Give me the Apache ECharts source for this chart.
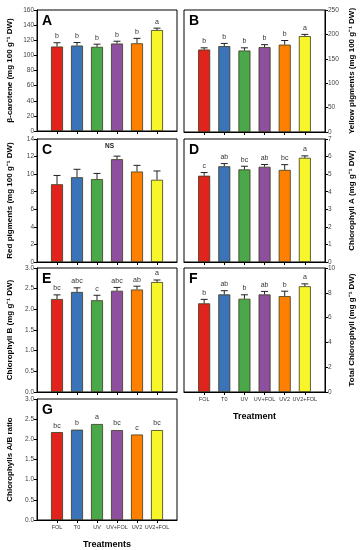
<!DOCTYPE html>
<html><head><meta charset="utf-8">
<script src="https://cdn.jsdelivr.net/npm/echarts@6/dist/echarts.min.js"></script>
<style>html,body{margin:0;padding:0;background:#fff}#c{width:364px;height:550px}</style>
</head><body><div id="c"></div>
<script>
// ---------- DATA ----------
const treatments = ['FOL','T0','UV','UV+FOL','UV2','UV2+FOL'];
const barColors = ['#e0231d','#3b73b8','#4ba84a','#8d4f9e','#ff8000','#f6f62a'];

const betaCarotene        = [111.7, 113.0, 111.3, 115.7, 116.0, 133.5];
const betaCaroteneErr     = [5.0, 4.0, 3.5, 3.0, 6.5, 2.5];
const betaCaroteneLetters = ['b','b','b','b','b','a'];
const betaCaroteneTicks   = {min:0, max:160, interval:20};

const yellowPigments        = [169, 176, 167, 174, 179, 196.5];
const yellowPigmentsErr     = [3.5, 5.5, 5.5, 5.0, 8.5, 3.5];
const yellowPigmentsLetters = ['b','b','b','b','b','a'];
const yellowPigmentsTicks   = {min:0, max:250, interval:50};

const redPigments        = [8.85, 9.65, 9.43, 11.7, 10.3, 9.36];
const redPigmentsErr     = [1.0, 0.9, 0.65, 0.35, 0.7, 1.0];
const redPigmentsLetters = ['','','','','',''];
const redPigmentsTicks   = {min:0, max:14, interval:2};

const chlA        = [4.91, 5.45, 5.27, 5.42, 5.24, 5.93];
const chlAErr     = [0.18, 0.15, 0.18, 0.13, 0.30, 0.11];
const chlALetters = ['c','ab','bc','ab','bc','a'];
const chlATicks   = {min:0, max:7, interval:1};

const chlB        = [2.25, 2.42, 2.22, 2.45, 2.48, 2.66];
const chlBErr     = [0.10, 0.10, 0.12, 0.08, 0.08, 0.05];
const chlBLetters = ['bc','abc','c','abc','ab','a'];
const chlBTicks   = {min:0, max:3, interval:0.5};

const totalChl        = [7.15, 7.87, 7.52, 7.87, 7.73, 8.53];
const totalChlErr     = [0.32, 0.30, 0.32, 0.24, 0.40, 0.19];
const totalChlLetters = ['b','ab','b','ab','b','a'];
const totalChlTicks   = {min:0, max:10, interval:2};

const abRatio        = [2.18, 2.24, 2.38, 2.23, 2.12, 2.23];
const abRatioErr     = [0, 0, 0, 0, 0, 0];
const abRatioLetters = ['bc','b','a','bc','c','bc'];
const abRatioTicks   = {min:0, max:3, interval:0.5};

// ---------- LAYOUT ----------
const FONT = 'Liberation Sans, Arial, sans-serif';
const panels = [
  {tag:'A', vals:betaCarotene, err:betaCaroteneErr, letters:betaCaroteneLetters, ticks:betaCaroteneTicks, fmt:v=>v,
   name:'β-carotene (mg 100 g⁻¹ DW)', side:'left', box:[37,10,140,121], xlab:false},
  {tag:'B', vals:yellowPigments, err:yellowPigmentsErr, letters:yellowPigmentsLetters, ticks:yellowPigmentsTicks, fmt:v=>v,
   name:'Yellow pigments (mg 100 g⁻¹ DW)', side:'right', box:[184,10,141,122], xlab:false},
  {tag:'C', vals:redPigments, err:redPigmentsErr, letters:redPigmentsLetters, ticks:redPigmentsTicks, fmt:v=>v,
   name:'Red pigments (mg 100 g⁻¹ DW)', side:'left', box:[37,139,140,123], xlab:false, note:'NS'},
  {tag:'D', vals:chlA, err:chlAErr, letters:chlALetters, ticks:chlATicks, fmt:v=>v,
   name:'Chlorophyll A (mg g⁻¹ DW)', side:'right', box:[184,139,141,123], xlab:false},
  {tag:'E', vals:chlB, err:chlBErr, letters:chlBLetters, ticks:chlBTicks, fmt:v=>v.toFixed(1),
   name:'Chlorophyll B (mg g⁻¹ DW)', side:'left', box:[37,268,140,124], xlab:false},
  {tag:'F', vals:totalChl, err:totalChlErr, letters:totalChlLetters, ticks:totalChlTicks, fmt:v=>v,
   name:'Total Chlorophyll (mg g⁻¹ DW)', side:'right', box:[184,268,141,124], xlab:true, xname:'Treatment'},
  {tag:'G', vals:abRatio, err:abRatioErr, letters:abRatioLetters, ticks:abRatioTicks, fmt:v=>v.toFixed(1),
   name:'Chlorophylls A/B ratio', side:'left', box:[37,399,140,124], xlab:true, xname:'Treatments'}
];

const cats = [' ', ...treatments, '  '];
const option = {animation:false, grid:[], xAxis:[], yAxis:[], series:[], graphic:[]};

panels.forEach((p, k) => {
  const [l,t,w,h] = p.box;
  option.grid.push({left:l, top:t, width:w, height:h, show:true, borderColor:'#000', borderWidth:1, backgroundColor:'transparent'});
  option.xAxis.push({
    type:'category', gridIndex:k, data:cats, boundaryGap:false,
    axisLine:{lineStyle:{color:'#000', width:1}},
    axisTick:{show:true, length:3, interval:(i,v)=>v.trim()!=='', lineStyle:{color:'#000'}},
    axisLabel:{show:p.xlab, interval:0, fontSize:5.5, color:'#333', fontFamily:FONT, margin:4, hideOverlap:false},
    name:p.xname||'', nameLocation:'middle', nameGap:20,
    nameTextStyle:{fontSize:9, fontWeight:'bold', color:'#000', fontFamily:FONT}
  });
  option.yAxis.push({
    type:'value', gridIndex:k, position:p.side, min:p.ticks.min, max:p.ticks.max, interval:p.ticks.interval,
    axisLine:{show:true, lineStyle:{color:'#000', width:1}},
    axisTick:{show:true, length:3, lineStyle:{color:'#000'}},
    splitLine:{show:false},
    axisLabel:{fontSize:6.5, color:'#444', fontFamily:FONT, margin:3, formatter:p.fmt},
    name:p.name, nameLocation:'middle', nameGap:23, nameRotate:90,
    nameTextStyle:{fontSize:8, fontWeight:'bold', color:'#000', fontFamily:FONT}
  });
  option.series.push({
    type:'bar', xAxisIndex:k, yAxisIndex:k, barWidth:12,
    data:['-', ...p.vals.map((v,i)=>({value:v, itemStyle:{color:barColors[i]}})), '-'],
    itemStyle:{borderColor:'#3a3a1a', borderWidth:0.8}
  });
  option.series.push({
    type:'custom', xAxisIndex:k, yAxisIndex:k, z:5,
    data:p.vals.map((v,i)=>[i+1, v, p.err[i]]),
    renderItem:(params, api) => {
      const x = api.value(0), v = api.value(1), e = api.value(2);
      const top = api.coord([x, v + e]);
      const base = api.coord([x, v]);
      const ch = [];
      if (e > 0) {
        ch.push({type:'line', shape:{x1:base[0], y1:base[1], x2:top[0], y2:top[1]}, style:{stroke:'#222', lineWidth:1}});
        ch.push({type:'line', shape:{x1:top[0]-3.5, y1:top[1], x2:top[0]+3.5, y2:top[1]}, style:{stroke:'#222', lineWidth:1}});
      }
      const letter = p.letters[params.dataIndex];
      if (letter) ch.push({type:'text', style:{text:letter, x:top[0], y:top[1]-3, align:'center', verticalAlign:'bottom', fontSize:7, fill:'#333', fontFamily:FONT}});
      return {type:'group', children:ch};
    }
  });
  option.graphic.push({type:'text', left:l+5, top:t+4, z:10,
    style:{text:p.tag, fontSize:14, fontWeight:'bold', fill:'#000', fontFamily:FONT}});
  if (p.note) option.graphic.push({type:'text', left:l+68, top:t+4, z:10,
    style:{text:p.note, fontSize:6.5, fontWeight:'bold', fill:'#222', fontFamily:FONT}});
});

const chart = echarts.init(document.getElementById('c'), null, {renderer:'canvas'});
chart.setOption(option);
</script>
</body></html>
